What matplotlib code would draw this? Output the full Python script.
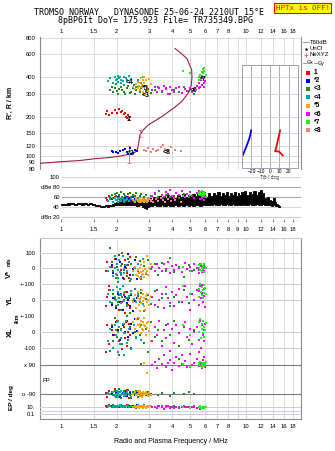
import numpy as np
import matplotlib
matplotlib.use("Agg")
import matplotlib.pyplot as plt
from matplotlib.ticker import NullLocator

plt.rcParams['font.family'] = ['Liberation Sans', 'DejaVu Sans']

# ---------------- data ----------------
freq_ticks = [1, 1.5, 2, 3, 4, 5, 6, 7, 8, 9, 10, 12, 14, 16, 18]
freq_labels = ['1', '1.5', '2', '3', '4', '5', '6', '7', '8', '9', '10', '12', '14', '16', '18']
freq_labels_no9 = ['1', '1.5', '2', '3', '4', '5', '6', '7', '8', '', '10', '12', '14', '16', '18']
height_ticks = [80, 90, 100, 120, 150, 200, 300, 400, 600, 800]
db_ticks = [100, 80, 60, 40, 20]
db_labels = ['100', 'dBe 80', '60', '40', 'dBn 20']

# NeXYZ profile (plasma frequency vs real height)
prof_f = [0.77, 1.0, 1.27, 1.53, 1.84, 2.1, 2.3, 2.5, 2.58, 2.62, 2.67, 2.78, 2.96, 3.5,
          4.13, 4.5, 4.88, 5.05, 5.1, 5.08, 4.8, 4.4, 4.13]
prof_h = [88, 90.5, 92.5, 95.5, 97.5, 100, 103, 106, 112, 122, 145, 158, 173, 200,
          237, 262, 305, 345, 400, 455, 555, 620, 665]
err_f = [2.34, 2.67]
err_h = [103, 148]
err_lo = [14, 9]
err_hi = [17, 9]

# tilt inset
tilt_x_deg = [13.6, 9.7, 5.4, 6.1, 8.0, 9.5, 10.8]
tilt_x_h = [101, 108, 109, 113, 128, 143, 157]
tilt_y_deg = [-29.8, -28.5, -27.0, -25.5, -24.0, -22.5, -21.2, -20.4]
tilt_y_h = [100, 105, 111, 118, 126, 135, 146, 157]

# noise (dBn) envelope
noise_f = [1.0, 1.05, 1.1, 1.15, 1.2, 1.25, 1.3, 1.35, 1.4, 1.45, 1.5, 1.55, 1.6, 1.65, 1.7, 1.75,
           1.8, 1.85, 1.9, 1.95, 2.0, 2.1, 2.2, 2.3, 2.4, 2.5, 2.6, 2.7, 2.8, 2.85, 2.9, 2.95,
           3.0, 3.1, 3.2, 3.3, 3.4, 3.5, 3.6, 3.7, 3.8, 3.9, 4.0, 4.15, 4.3, 4.45, 4.6, 4.75,
           4.9, 5.05, 5.2, 5.35, 5.5, 5.7, 5.9, 6.1, 6.3, 6.5, 6.7, 6.9, 7.1, 7.3, 7.5, 7.7,
           7.9, 8.1, 8.3, 8.5, 8.7, 8.9, 9.1, 9.3, 9.5, 9.7, 9.9, 10.2, 10.5, 10.8, 11.1, 11.4,
           11.7, 12.0, 12.3, 12.6, 12.9, 13.2, 13.5, 13.8, 14.1, 14.4, 14.7, 15.0, 15.3]
noise_lo = [44, 45, 45, 46, 45, 46, 45, 46, 45, 46, 44, 43, 42, 41, 41, 42,
            41, 42, 43, 44, 44, 45, 44, 45, 44, 45, 43, 44, 40, 38, 36, 41,
            43, 42, 44, 43, 42, 44, 43, 42, 44, 43, 42, 44, 43, 45, 43, 44,
            42, 44, 43, 45, 44, 43, 45, 44, 45, 44, 46, 45, 44, 46, 45, 44,
            46, 45, 44, 46, 45, 44, 46, 45, 44, 46, 45, 44, 46, 45, 44, 46,
            45, 44, 46, 45, 44, 45, 44, 43, 44, 43, 42, 41, 40]
noise_hi = [46, 47, 48, 48, 47, 49, 48, 48, 47, 49, 47, 45, 44, 43, 43, 44,
            44, 45, 46, 48, 50, 52, 50, 54, 52, 55, 50, 56, 52, 50, 54, 56,
            58, 54, 60, 56, 62, 57, 63, 58, 64, 59, 62, 58, 64, 60, 66, 61,
            65, 60, 67, 62, 68, 63, 66, 61, 68, 63, 69, 64, 70, 62, 68, 64,
            70, 63, 69, 65, 71, 62, 68, 64, 70, 66, 72, 65, 71, 67, 72, 64,
            70, 75, 68, 58, 50, 61, 55, 52, 58, 50, 47, 45, 42]

# echo groups: frequency, virtual height, amplitude, V*, YL, XL, polarization, EP
g1_f = [1.74, 1.78, 1.82, 1.88, 1.95, 2.0, 2.05, 2.1, 2.14, 2.18, 2.22, 2.25, 2.28, 2.3, 2.33, 2.36]
g1_h = [210, 222, 205, 215, 225, 212, 228, 218, 222, 208, 214, 200, 195, 205, 190, 198]
g1_db = [58, 55, 62, 57, 60, 54, 61, 56, 59, 55, 62, 53, 57, 60, 55, 52]
g1_v = [-20, 40, -110, 10, 60, -40, 85, -10, 30, -70, 50, 0, -30, 20, -60, 70]
g1_yl = [-40, 20, 60, -20, 5, 80, -60, 40, -10, 30, -80, 15, 50, -30, 10, -50]
g1_xl = [-130, 40, -80, 10, -20, 70, -60, 20, -110, 30, -40, 60, -90, 0, 50, -20]
g1_pp = [-85, -110, -70, -95, -60, -100, -80, -120, -90, -75, -105, -88, -65, -95, -115, -82]
g1_ep = [20, 8, 30, 12, 15, 25, 10, 18, 22, 14, 9, 16, 28, 11, 19, 13]

g2_f = [1.88, 1.92, 1.97, 2.02, 2.08, 2.15, 2.22, 2.27, 2.3, 2.35, 2.4, 2.45, 2.5, 2.56]
g2_h = [110, 107, 108, 106, 109, 112, 114, 108, 104, 116, 103, 106, 112, 109]
g2_db = [56, 58, 54, 60, 57, 55, 59, 61, 56, 58, 54, 60, 57, 55]
g2_v = [20, -30, 60, -10, 40, -60, 10, -20, 90, -40, 30, -5, 50, -70]
g2_yl = [-30, 10, -50, 40, -10, -60, 20, -20, 0, -40, 30, -70, -5, 15]
g2_xl = [30, -20, 60, 10, -50, 40, 0, 70, -30, 20, 50, -10, 80, 5]
g2_pp = [-90, -100, -80, -95, -110, -85, -70, -105, -92, -88, -115, -78, -98, -84]
g2_ep = [15, 10, 25, 12, 8, 20, 14, 18, 9, 22, 11, 16, 13, 30]

g3_f = [1.85, 1.88, 1.92, 1.95, 1.98, 2.0, 2.03, 2.06, 2.1, 2.14, 2.18, 2.22, 2.26, 2.3, 2.35, 2.4,
        2.45, 2.5, 2.55, 2.6, 2.66, 2.72, 2.8, 2.88, 2.95, 3.05, 3.2, 3.35, 3.5, 3.7, 3.9, 4.1,
        4.35, 4.6, 4.9, 5.2]
g3_h = [320, 340, 310, 330, 355, 315, 300, 325, 340, 320, 310, 300, 330, 345, 305, 310,
        330, 300, 320, 335, 310, 330, 300, 315, 325, 305, 320, 340, 310, 330, 300, 320,
        310, 335, 315, 300]
g3_db = [60, 64, 58, 66, 62, 68, 59, 65, 70, 61, 67, 63, 58, 66, 69, 60,
         64, 62, 68, 57, 63, 66, 60, 65, 58, 62, 67, 61, 59, 64, 60, 63,
         58, 66, 61, 59]
g3_v = [130, 40, -20, 80, -60, 10, -90, 50, -30, 100, -10, 20, -50, 60, -80, 30,
        -40, 5, 70, -20, 45, -65, 15, -35, 55, -5, 25, -45, 35, -15, 65, -25,
        10, -55, 20, -10]
g3_yl = [60, -20, 40, 10, -40, 80, -10, 30, -60, 20, 0, 50, -30, 15, -80, 35,
         -5, 70, -50, 25, -15, 45, -70, 5, 30, -25, 55, -45, 10, 40, -35, 20,
         -10, 65, -20, 0]
g3_xl = [-120, 40, -60, 90, 10, -30, 70, -150, 20, -80, 50, -10, 100, -50, 30, -100,
         60, 0, -40, 80, -20, 40, -70, 20, -130, 60, -30, 10, -60, 40, -20, 70,
         -90, 30, -50, 10]
g3_pp = [-90, -80, -100, -70, -110, -95, -85, -60, -120, -90, -75, -105, -88, -65, -98, -115,
         -82, -92, -72, -108, -95, 95, -85, -100, -78, -90, 110, -96, -84, 80, -102, -88,
         130, -94, -80, -92]
g3_ep = [20, 12, 30, 8, 15, 25, 10, 18, 40, 14, 9, 22, 16, 28, 11, 19,
         13, 24, 7, 17, 21, 12, 26, 9, 15, 20, 11, 18, 14, 23, 10, 16,
         12, 19, 13, 8]

g4_f = [1.8, 1.85, 1.9, 1.95, 1.97, 2.0, 2.02, 2.04, 2.06, 2.08, 2.1, 2.12, 2.15, 2.18, 2.2, 2.24,
        2.28, 2.33, 2.4, 2.48, 2.55, 2.62, 2.7, 2.77]
g4_h = [375, 395, 360, 405, 380, 390, 410, 370, 395, 400, 385, 360, 375, 350, 405, 395,
        380, 410, 390, 350, 340, 385, 365, 400]
g4_db = [52, 56, 50, 58, 54, 55, 57, 51, 59, 53, 56, 52, 58, 54, 50, 55,
         57, 53, 56, 52, 54, 58, 51, 55]
g4_v = [-20, 10, -50, 0, -35, 30, -60, -10, 50, -25, 15, -45, 80, -5, -30, 20,
        -15, 40, -70, 5, -40, 25, -55, 60]
g4_yl = [40, -10, 60, 20, 0, 80, -30, 50, 10, 70, -20, 30, 90, -5, 45, 15,
         -40, 25, 55, 5, -15, 35, 65, -25]
g4_xl = [-60, 20, -100, 40, -20, 60, -130, 0, 30, -80, 10, -40, 50, -150, -10, 70,
         -70, 20, -110, 40, -30, 90, -50, 10]
g4_pp = [-85, -95, -78, -102, -90, -70, -110, -88, -96, -82, -100, -75, -92, -105, -86, -98,
         -80, -94, -112, -84, -90, -76, -100, -88]
g4_ep = [14, 20, 10, 25, 12, 18, 8, 22, 15, 30, 11, 16, 13, 19, 9, 24,
         17, 12, 21, 10, 15, 27, 11, 14]

g5_f = [2.45, 2.5, 2.55, 2.6, 2.62, 2.64, 2.66, 2.68, 2.7, 2.72, 2.74, 2.76, 2.78, 2.8, 2.82, 2.85,
        2.88, 2.9, 2.93, 2.96, 3.0, 3.05]
g5_h = [340, 325, 355, 330, 370, 345, 320, 360, 395, 335, 350, 310, 380, 400, 360, 300,
        385, 330, 345, 315, 390, 355]
g5_db = [54, 50, 56, 52, 55, 51, 57, 53, 50, 55, 52, 56, 54, 51, 57, 53,
         55, 50, 54, 52, 56, 53]
g5_v = [-20, 10, -40, -10, -50, -30, 0, -60, -25, 20, -45, -15, -35, 40, -55, -5,
        -30, 80, -20, -40, 0, 25]
g5_yl = [-10, 30, -50, 15, 50, -30, 5, -70, 20, -20, 60, -5, 35, -40, 10, -60,
         25, -15, 40, 0, -30, 20]
g5_xl = [60, 20, 80, 40, 0, 90, 30, 50, -10, 70, 20, 60, 10, 45, 85, 35,
         -20, 55, 25, 65, 5, -60]
g5_pp = [-90, -80, -100, -70, -95, -85, -105, -75, -92, -88, -110, -82, -98, 100, -86, -94,
         -78, 40, -90, -102, -84, -96]
g5_ep = [10, 15, 8, 20, 12, 6, 18, 9, 14, 25, 11, 7, 16, 13, 22, 10,
         5, 17, 12, 9, 19, 14]

g6_f = [3.1, 3.2, 3.3, 3.4, 3.5, 3.6, 3.7, 3.8, 3.9, 4.0, 4.1, 4.2, 4.35, 4.5, 4.65, 4.8,
        4.95, 5.1, 5.25, 5.4, 5.55, 5.65, 5.72, 5.78, 5.84, 5.9, 5.96, 6.0, 5.6, 5.8]
g6_h = [320, 340, 310, 330, 315, 345, 325, 300, 335, 320, 310, 330, 340, 305, 325, 315,
        330, 310, 320, 345, 360, 335, 380, 350, 395, 365, 340, 375, 330, 410]
g6_db = [62, 68, 58, 72, 64, 60, 70, 66, 74, 62, 58, 68, 64, 72, 60, 66,
         70, 62, 58, 68, 64, 56, 70, 62, 66, 60, 54, 68, 72, 58]
g6_v = [10, -20, 30, 0, -15, 25, -5, 40, -30, 15, -10, 20, 5, -25, 35, -5,
        10, -20, 25, 0, -10, 30, 15, -25, 5, -15, 20, 0, -30, 10]
g6_yl = [20, -30, 60, 0, 40, -50, 80, 10, -20, 50, -40, 30, 70, -10, 90, 20,
         -60, 40, 0, 60, -30, 85, 10, 45, -15, 70, 25, -45, 55, 95]
g6_xl = [-60, 30, -20, 70, -90, 10, -40, 50, -120, 20, -70, 40, -10, -150, 60, -30,
         20, -80, 0, 30, -50, 70, -100, 40, -20, 10, -60, 50, -130, 20]
g6_pp = [90, 110, 70, 130, 95, 150, 80, 100, 120, 60, 105, 140, 85, 95, 115, 75,
         160, 90, 100, 130, 85, 110, 95, 70, 120, 100, 140, 80, 90, 105]
g6_ep = [8, 12, 5, 15, 10, 3, 9, 14, 6, 11, 7, 13, 4, 10, 8, 12,
         5, 9, 15, 6, 11, 3, 8, 13, 7, 10, 5, 12, 9, 6]

g7_f = [4.55, 5.0, 5.55, 5.6, 5.65, 5.7, 5.75, 5.8, 5.85, 5.88, 5.92, 5.96, 6.0, 6.05]
g7_h = [450, 430, 380, 400, 420, 390, 440, 410, 460, 430, 470, 445, 400, 420]
g7_db = [62, 64, 66, 68, 70, 64, 72, 66, 62, 68, 70, 64, 66, 60]
g7_v = [10, -15, 20, 0, -10, 30, 5, -20, 15, -5, 25, -25, 10, 0]
g7_yl = [90, 40, 70, 20, 100, 50, 80, 30, 60, 15, 95, 45, 75, 35]
g7_xl = [40, -20, 60, 0, 80, -40, 20, 50, -10, 70, 30, -30, 10, 55]
g7_pp = [95, 80, 100, 90, 110, 85, 95, 75, 105, 90, 100, 85, 95, 110]
g7_ep = [10, 5, 12, 8, 15, 6, 10, 4, 9, 12, 7, 5, 11, 8]

g8_f = [2.8, 2.88, 2.96, 3.05, 3.15, 3.25, 3.35, 3.45, 3.55, 3.65, 3.8, 3.95, 4.15, 4.45]
g8_h = [112, 110, 115, 108, 113, 110, 112, 117, 122, 114, 110, 118, 112, 109]
g8_db = [56, 52, 58, 54, 50, 57, 53, 59, 55, 51, 56, 52, 54, 50]

group_names = ['1', '*2', '<3', '<4', '*5', '<6', '*7', '<8']
group_colors = ['#ff0000', '#0000ff', '#228b22', '#00a8a8', '#ffa500', '#ff00ff', '#22ee22', '#f08080']
# label spots for the group tags in the height panel
tag_f = [2.31, 2.41, 2.85, 2.34, 2.85, 5.19, 5.88, 3.72]
tag_h = [192, 105, 293, 364, 330, 320, 387, 107]

groups = [
    (g1_f, g1_h, g1_db, g1_v, g1_yl, g1_xl, g1_pp, g1_ep),
    (g2_f, g2_h, g2_db, g2_v, g2_yl, g2_xl, g2_pp, g2_ep),
    (g3_f, g3_h, g3_db, g3_v, g3_yl, g3_xl, g3_pp, g3_ep),
    (g4_f, g4_h, g4_db, g4_v, g4_yl, g4_xl, g4_pp, g4_ep),
    (g5_f, g5_h, g5_db, g5_v, g5_yl, g5_xl, g5_pp, g5_ep),
    (g6_f, g6_h, g6_db, g6_v, g6_yl, g6_xl, g6_pp, g6_ep),
    (g7_f, g7_h, g7_db, g7_v, g7_yl, g7_xl, g7_pp, g7_ep),
    (g8_f, g8_h, g8_db, None, None, None, None, None),
]

# ---------------- layout helpers ----------------
W, H = 335, 451
fig = plt.figure(figsize=(W / 100, H / 100), dpi=100)


def rect(x0, y0, x1, y1):
    return [x0 / W, 1 - y1 / H, (x1 - x0) / W, (y1 - y0) / H]


FMIN, FMAX = 0.77, 19.8
grid_c = '#d6d6d6'
hgrid_c = '#cfcfdc'
spine_c = '#8c8c8c'
tfs = 4.2
ms = 2.6


def freq_axis(ax, grid=True):
    ax.set_xscale('log')
    ax.set_xlim(FMIN, FMAX)
    ax.set_xticks(freq_ticks)
    ax.xaxis.set_minor_locator(NullLocator())
    if grid:
        for f in freq_ticks:
            ax.axvline(f, color=grid_c, lw=0.6, zorder=0)


# ---------------- title ----------------
fig.text(149 / W, 1 - 12.5 / H, 'TROMSO NORWAY   DYNASONDE 25-06-24 2210UT 15°E',
         family='DejaVu Sans Mono', fontsize=6, ha='center', va='center')
fig.text(156 / W, 1 - 20.5 / H, '8pBP6It DoY= 175.923 File= TR735349.BPG',
         family='DejaVu Sans Mono', fontsize=6, ha='center', va='center')
fig.text(302.5 / W, 1 - 8 / H, 'HPTx is OFF!', family='DejaVu Sans Mono', fontsize=5.4,
         color='#ff0000', ha='center', va='center',
         bbox=dict(facecolor='#ffff00', edgecolor='#ff0000', lw=0.8, pad=1.2))

# ---------------- height panel ----------------
ax = fig.add_axes(rect(40, 37, 301, 169))
freq_axis(ax)
ax.set_yscale('log')
ax.set_ylim(79.6, 814)
ax.set_yticks(height_ticks)
ax.set_yticklabels([str(h) for h in height_ticks])
ax.yaxis.set_minor_locator(NullLocator())
ax.xaxis.tick_top()
ax.set_xticklabels(freq_labels_no9)
ax.tick_params(length=0, labelsize=tfs, pad=2.2)
ax.tick_params(axis='y', pad=3.5)
for h in height_ticks:
    ax.axhline(h, color=grid_c, lw=0.6, zorder=0)
for s in ['top', 'bottom']:
    ax.spines[s].set_visible(False)
for s in ['left', 'right']:
    ax.spines[s].set_color(spine_c)
    ax.spines[s].set_linewidth(0.8)
ax.set_ylabel("R', R / km", fontsize=5, fontweight='bold', labelpad=8)

ax.plot(prof_f, prof_h, color='#a8174a', lw=0.8, zorder=3)
ax.errorbar(err_f, err_h, yerr=[err_lo, err_hi], fmt='none', ecolor='#e86a8a',
            elinewidth=0.6, capsize=1.3, capthick=0.6, zorder=3)
for (gf, gh, *_), col in zip(groups, group_colors):
    ax.scatter(gf, gh, s=ms, marker='s', c=col, linewidths=0, zorder=4)
for name, tf, th in zip(group_names, tag_f, tag_h):
    ax.text(tf, th, name, fontsize=5, fontweight='bold', ha='center', va='center', zorder=5)

# tilt inset
iax = fig.add_axes(rect(241.7, 65, 297.7, 168))
iax.set_facecolor('white')
iax.set_yscale('log')
iax.set_ylim(80.9, 497)
iax.set_xlim(-30.5, 29.7)
iax.set_yticks([])
iax.yaxis.set_minor_locator(NullLocator())
iax.set_xticks([-20, -10, 0, 10, 20])
iax.tick_params(length=0, labelsize=3.5, pad=1)
for d in [-20, -10, 0, 10, 20]:
    iax.axvline(d, color='#a0a0b4', lw=0.6, zorder=0)
for h in height_ticks:
    iax.axhline(h, color=grid_c, lw=0.6, zorder=0)
for s in iax.spines.values():
    s.set_color('#a0a0b4')
    s.set_linewidth(0.7)
iax.set_xlabel('Tilt / deg', fontsize=3.5, labelpad=0.5)
iax.plot(tilt_y_deg, tilt_y_h, color='#0000ff', lw=1.3)
iax.plot(tilt_x_deg, tilt_x_h, color='#ff0000', lw=1.3)

# legend
lax = fig.add_axes(rect(302, 36, 335, 136))
lax.set_xlim(302, 335)
lax.set_ylim(136, 36)
lax.axis('off')
lfs = 4.3
lax.plot([303, 309], [42, 42], color='#a0a0a0', lw=0.8)
lax.text(310, 42, 'T60dB', fontsize=lfs, va='center')
lax.plot([306], [48.5], 'o', color='black', ms=0.8)
lax.text(310, 48.5, 'UnCl', fontsize=lfs, va='center')
lax.plot([306], [55], '+', color='#e8508a', ms=3, mew=0.6)
lax.text(310, 55, 'NeXYZ', fontsize=lfs, va='center')
lax.plot([302.5, 306], [63, 63], color='#e87a9a', lw=0.7)
lax.text(306.3, 63, 'Θx', fontsize=3.8, va='center')
lax.plot([313.5, 317], [63, 63], color='#9a9ae0', lw=0.7)
lax.text(317.3, 63, 'Θy', fontsize=3.8, va='center')
leg_y = [72.7, 80.5, 89, 97.3, 105.7, 114, 122, 130]
for name, col, yy in zip(group_names, group_colors, leg_y):
    lax.plot([307.7], [yy], 's', color=col, ms=2.3, mew=0)
    lax.text(314, yy, name, fontsize=4.8, fontweight='bold', va='center')

# ---------------- amplitude panel ----------------
dax = fig.add_axes(rect(40, 169, 301, 222))
freq_axis(dax, grid=False)
dax.set_ylim(10.6, 116.6)
dax.set_yticks([])
dax.set_facecolor('none')
for s in dax.spines.values():
    s.set_visible(False)
dax.set_xticklabels(freq_labels)
dax.tick_params(axis='x', length=2, direction='in', labelsize=tfs, pad=3.5, color=spine_c)
x0frac = (62 - 40) / 261
for d in db_ticks:
    c = '#c8c8f0' if d == 20 else ('#a8a8a8' if d in (80, 60) else grid_c)
    dax.axhline(d, xmin=x0frac, color=c, lw=0.8, zorder=0)
dax.axhline(10.8, xmin=x0frac, color=spine_c, lw=0.8, zorder=0)
for d, lab in zip(db_ticks, db_labels):
    dax.text(0.985, d, lab, fontsize=tfs, ha='right', va='center')
dax.fill_between(noise_f, noise_lo, noise_hi, color='black', lw=0.6, edgecolor='black', step='mid', zorder=2)
for (gf, gh, gdb, *_), col in zip(groups, group_colors):
    dax.scatter(gf, gdb, s=ms, marker='s', c=col, linewidths=0, zorder=4)

# ---------------- echo parameter panel ----------------
bax = fig.add_axes(rect(40, 238, 301, 419))
freq_axis(bax)
bax.set_ylim(0, 1)
bax.set_yticks([])
bax.set_xticklabels(freq_labels_no9)
bax.tick_params(axis='x', length=0, labelsize=tfs, pad=3.5)
bax.set_xlabel('Radio and Plasma Frequency / MHz', fontsize=5, labelpad=6.5)
for s in bax.spines.values():
    s.set_color(spine_c)
    s.set_linewidth(0.8)
bax.spines['top'].set_color('#c8c8c8')


def strip(y0, y1, lim, ticks, labels, log=False, dark=False):
    s = fig.add_axes(rect(40, y0, 301, y1))
    s.set_facecolor('none')
    freq_axis(s, grid=False)
    s.set_xticks([])
    if log:
        s.set_yscale('log')
        s.yaxis.set_minor_locator(NullLocator())
    s.set_ylim(*lim)
    s.set_yticks(ticks)
    s.set_yticklabels(labels)
    s.tick_params(length=0, labelsize=tfs, pad=3.5)
    for sp in s.spines.values():
        sp.set_visible(False)
    for t in ticks:
        s.axhline(t, color='#7a7a7a' if dark else hgrid_c, lw=0.8 if dark else 0.7, zorder=0)
    return s


vax = strip(238, 284, (-100, 193), [100, 0], ['100', '0'])
yax = strip(284, 316, (-100, 100), [100, 0, -100], ['+-100', '0', '+-100'])
xax = strip(316, 360, (-178.5, 100), [0, -100], ['0', '-100'])
pax = strip(360, 400, (-129.5, 121.4), [90, -90], ['x 90', 'o -90'], dark=True)
eax = strip(400, 419, (0.00515, 828), [10, 1, 0.1], ['10.', '', '0.1'], log=True)
pax.text(0.008, 0.5, 'PP', transform=pax.transAxes, fontsize=tfs, va='center')

for (gf, gh, gdb, gv, gyl, gxl, gpp, gep), col in zip(groups, group_colors):
    if gv is None:
        continue
    for sax, vals in [(vax, gv), (yax, gyl), (xax, gxl), (pax, gpp), (eax, gep)]:
        sax.scatter(gf, vals, s=ms, marker='s', c=col, linewidths=0, zorder=4, clip_on=False)

# left side labels of the parameter panel
fig.text(9 / W, 1 - 274 / H, 'V*', rotation=90, fontsize=5.5, fontweight='bold', ha='center', va='center')
fig.text(9 / W, 1 - 262 / H, 'm/s', rotation=90, fontsize=3.6, fontweight='bold', ha='center', va='center')
fig.text(10 / W, 1 - 300 / H, 'YL', rotation=90, fontsize=5.5, fontweight='bold', ha='center', va='center')
fig.text(17.5 / W, 1 - 318 / H, '/km', rotation=90, fontsize=4, fontweight='bold', ha='center', va='center')
fig.text(10 / W, 1 - 332 / H, 'XL', rotation=90, fontsize=5.5, fontweight='bold', ha='center', va='center')
fig.text(12 / W, 1 - 398 / H, 'EP / deg', rotation=90, fontsize=4.6, fontweight='bold', ha='center', va='center')

fig.savefig('out.png', dpi=100)
